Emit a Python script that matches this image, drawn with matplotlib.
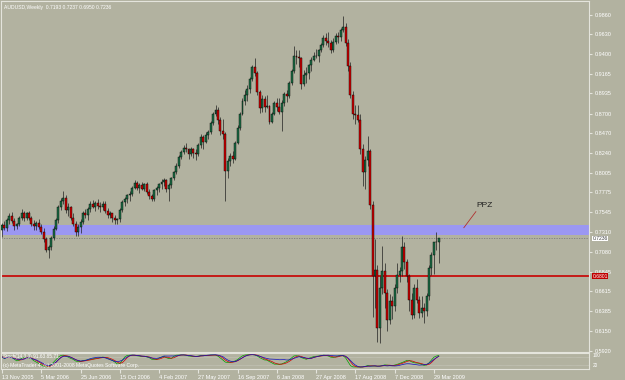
import numpy as np
import pandas as pd
import matplotlib
matplotlib.use('Agg')
import matplotlib.pyplot as plt

# AUDUSD weekly bars, first bar = week of 13 Nov 2005
opens = [
    0.7330, 0.7390, 0.7360, 0.7450, 0.7500, 0.7440, 0.7380, 0.7400, 0.7480, 0.7530,
    0.7470, 0.7530, 0.7480, 0.7410, 0.7380, 0.7420, 0.7370, 0.7310, 0.7230, 0.7100,
    0.7130, 0.7240, 0.7350, 0.7450, 0.7610, 0.7680, 0.7710, 0.7570, 0.7600, 0.7480,
    0.7410, 0.7310, 0.7370, 0.7430, 0.7530, 0.7510, 0.7580, 0.7640, 0.7610, 0.7650,
    0.7620, 0.7600, 0.7640, 0.7560, 0.7510, 0.7530, 0.7470, 0.7450, 0.7460, 0.7570,
    0.7660, 0.7700, 0.7740, 0.7760, 0.7830, 0.7880, 0.7830, 0.7860, 0.7820, 0.7870,
    0.7780, 0.7730, 0.7700, 0.7800, 0.7830, 0.7870, 0.7900, 0.7920, 0.7810, 0.7860,
    0.7940, 0.8010, 0.8090, 0.8190, 0.8250, 0.8300, 0.8280, 0.8220, 0.8290, 0.8240,
    0.8230, 0.8330, 0.8420, 0.8370, 0.8450, 0.8480, 0.8590, 0.8700, 0.8740, 0.8620,
    0.8500, 0.8460, 0.8030, 0.8140, 0.8200, 0.8170, 0.8360, 0.8530, 0.8700, 0.8850,
    0.8920, 0.8990, 0.9110, 0.9250, 0.9180, 0.8950, 0.8760, 0.8870, 0.8780, 0.8790,
    0.8600, 0.8700, 0.8820, 0.8780, 0.8720, 0.8820, 0.8930, 0.8900, 0.9060, 0.9200,
    0.9370, 0.9360, 0.9350, 0.9050, 0.9150, 0.9180, 0.9270, 0.9330, 0.9380, 0.9370,
    0.9440, 0.9500, 0.9590, 0.9550, 0.9530, 0.9450, 0.9540, 0.9610, 0.9600, 0.9680,
    0.9720, 0.9530, 0.9260, 0.8920, 0.8700, 0.8680, 0.8620, 0.8290, 0.8020, 0.8150,
    0.8260, 0.7630, 0.6790, 0.6870, 0.6190, 0.6650, 0.6860, 0.6600, 0.6280, 0.6500,
    0.6440, 0.6650, 0.6810, 0.6850, 0.7140, 0.6960, 0.6790, 0.6510, 0.6340, 0.6650,
    0.6520, 0.6360, 0.6420, 0.6380, 0.6560, 0.6890, 0.7040, 0.7200, 0.7193,
]
highs = [
    0.7420, 0.7440, 0.7470, 0.7540, 0.7550, 0.7470, 0.7420, 0.7500, 0.7580, 0.7560,
    0.7550, 0.7560, 0.7500, 0.7450, 0.7440, 0.7460, 0.7400, 0.7360, 0.7250, 0.7160,
    0.7260, 0.7380, 0.7480, 0.7630, 0.7710, 0.7790, 0.7740, 0.7650, 0.7620, 0.7530,
    0.7440, 0.7400, 0.7460, 0.7560, 0.7580, 0.7600, 0.7670, 0.7690, 0.7680, 0.7700,
    0.7660, 0.7680, 0.7680, 0.7590, 0.7560, 0.7540, 0.7510, 0.7480, 0.7590, 0.7690,
    0.7720, 0.7760, 0.7790, 0.7850, 0.7926, 0.7910, 0.7880, 0.7900, 0.7890, 0.7900,
    0.7820, 0.7760, 0.7820, 0.7850, 0.7890, 0.7930, 0.7950, 0.7930, 0.7880, 0.7960,
    0.8030, 0.8120, 0.8210, 0.8270, 0.8330, 0.8360, 0.8300, 0.8310, 0.8300, 0.8290,
    0.8350, 0.8460, 0.8450, 0.8480, 0.8510, 0.8610, 0.8720, 0.8795, 0.8780, 0.8660,
    0.8640, 0.8480, 0.8180, 0.8240, 0.8260, 0.8380, 0.8570, 0.8720, 0.8880, 0.8970,
    0.9030, 0.9130, 0.9270, 0.9350, 0.9200, 0.8980, 0.8920, 0.8900, 0.8920, 0.8800,
    0.8720, 0.8850, 0.8880, 0.8880, 0.8860, 0.8950, 0.8980, 0.9080, 0.9220, 0.9496,
    0.9450, 0.9440, 0.9360, 0.9210, 0.9240, 0.9280, 0.9360, 0.9420, 0.9460, 0.9460,
    0.9530, 0.9620, 0.9640, 0.9660, 0.9560, 0.9580, 0.9640, 0.9650, 0.9700, 0.9849,
    0.9760, 0.9570, 0.9300, 0.8960, 0.8800, 0.8800, 0.8700, 0.8340, 0.8200, 0.8440,
    0.8280, 0.7680, 0.7230, 0.6920, 0.6800, 0.7150, 0.6950, 0.6640, 0.6580, 0.6560,
    0.6700, 0.6950, 0.6900, 0.7260, 0.7200, 0.7000, 0.6820, 0.6600, 0.6700, 0.6760,
    0.6560, 0.6560, 0.6480, 0.6600, 0.6920, 0.7080, 0.7200, 0.7316, 0.7237,
]
lows = [
    0.7256, 0.7340, 0.7320, 0.7410, 0.7420, 0.7330, 0.7350, 0.7380, 0.7450, 0.7440,
    0.7450, 0.7450, 0.7380, 0.7340, 0.7330, 0.7350, 0.7290, 0.7200, 0.7080, 0.7010,
    0.7100, 0.7220, 0.7330, 0.7420, 0.7570, 0.7640, 0.7540, 0.7500, 0.7450, 0.7380,
    0.7270, 0.7260, 0.7300, 0.7410, 0.7470, 0.7450, 0.7550, 0.7590, 0.7560, 0.7580,
    0.7550, 0.7570, 0.7540, 0.7480, 0.7470, 0.7430, 0.7410, 0.7400, 0.7430, 0.7550,
    0.7620, 0.7650, 0.7680, 0.7730, 0.7810, 0.7800, 0.7770, 0.7800, 0.7790, 0.7760,
    0.7700, 0.7680, 0.7680, 0.7750, 0.7780, 0.7820, 0.7850, 0.7780, 0.7680, 0.7830,
    0.7920, 0.7990, 0.8060, 0.8170, 0.8230, 0.8250, 0.8170, 0.8200, 0.8180, 0.8160,
    0.8200, 0.8300, 0.8290, 0.8350, 0.8400, 0.8460, 0.8570, 0.8670, 0.8580, 0.8450,
    0.8400, 0.7677, 0.7950, 0.8080, 0.8120, 0.8150, 0.8340, 0.8510, 0.8680, 0.8800,
    0.8850, 0.8940, 0.9080, 0.9140, 0.8920, 0.8710, 0.8720, 0.8720, 0.8760, 0.8580,
    0.8590, 0.8680, 0.8730, 0.8700, 0.8500, 0.8790, 0.8840, 0.8880, 0.9040, 0.9180,
    0.9280, 0.9250, 0.8990, 0.9020, 0.9060, 0.9100, 0.9200, 0.9310, 0.9350, 0.9300,
    0.9420, 0.9480, 0.9500, 0.9480, 0.9410, 0.9420, 0.9510, 0.9530, 0.9550, 0.9660,
    0.9490, 0.9200, 0.8880, 0.8640, 0.8580, 0.8600, 0.8220, 0.7850, 0.7810, 0.8080,
    0.7580, 0.6310, 0.6420, 0.6020, 0.6009, 0.6580, 0.6420, 0.6150, 0.6230, 0.6290,
    0.6380, 0.6600, 0.6720, 0.6800, 0.6880, 0.6720, 0.6380, 0.6290, 0.6300, 0.6480,
    0.6300, 0.6320, 0.6250, 0.6330, 0.6520, 0.6810, 0.6820, 0.7100, 0.6950,
]
closes = [
    0.7390, 0.7360, 0.7450, 0.7500, 0.7440, 0.7380, 0.7400, 0.7480, 0.7530, 0.7470,
    0.7530, 0.7480, 0.7410, 0.7380, 0.7420, 0.7370, 0.7310, 0.7230, 0.7100, 0.7130,
    0.7240, 0.7350, 0.7450, 0.7610, 0.7680, 0.7710, 0.7570, 0.7600, 0.7480, 0.7410,
    0.7310, 0.7370, 0.7430, 0.7530, 0.7510, 0.7580, 0.7640, 0.7610, 0.7650, 0.7620,
    0.7600, 0.7640, 0.7560, 0.7510, 0.7530, 0.7470, 0.7450, 0.7460, 0.7570, 0.7660,
    0.7700, 0.7740, 0.7760, 0.7830, 0.7880, 0.7830, 0.7860, 0.7820, 0.7870, 0.7780,
    0.7730, 0.7700, 0.7800, 0.7830, 0.7870, 0.7900, 0.7920, 0.7810, 0.7860, 0.7940,
    0.8010, 0.8090, 0.8190, 0.8250, 0.8300, 0.8280, 0.8220, 0.8290, 0.8240, 0.8230,
    0.8330, 0.8420, 0.8370, 0.8450, 0.8480, 0.8590, 0.8700, 0.8740, 0.8620, 0.8500,
    0.8460, 0.8030, 0.8140, 0.8200, 0.8170, 0.8360, 0.8530, 0.8700, 0.8850, 0.8920,
    0.8990, 0.9110, 0.9250, 0.9180, 0.8950, 0.8760, 0.8870, 0.8780, 0.8790, 0.8600,
    0.8700, 0.8820, 0.8780, 0.8720, 0.8820, 0.8930, 0.8900, 0.9060, 0.9200, 0.9370,
    0.9360, 0.9350, 0.9050, 0.9150, 0.9180, 0.9270, 0.9330, 0.9380, 0.9370, 0.9440,
    0.9500, 0.9590, 0.9550, 0.9530, 0.9450, 0.9540, 0.9610, 0.9600, 0.9680, 0.9720,
    0.9530, 0.9260, 0.8920, 0.8700, 0.8680, 0.8620, 0.8290, 0.8020, 0.8150, 0.8260,
    0.7630, 0.6790, 0.6870, 0.6190, 0.6650, 0.6860, 0.6600, 0.6280, 0.6500, 0.6440,
    0.6650, 0.6810, 0.6850, 0.7140, 0.6960, 0.6790, 0.6510, 0.6340, 0.6650, 0.6520,
    0.6360, 0.6420, 0.6380, 0.6560, 0.6890, 0.7040, 0.7200, 0.7193, 0.7236,
]

price_ticks = [0.9860, 0.9630, 0.9400, 0.9165, 0.8935, 0.8700, 0.8470, 0.8240, 0.8005,
               0.7775, 0.7545, 0.7310, 0.7080, 0.6845, 0.6615, 0.6385, 0.6150, 0.5920]
date_pos = [0, 16, 32, 48, 64, 80, 96, 112, 128, 144, 160, 176]
date_labels = ['13 Nov 2005', '5 Mar 2006', '25 Jun 2006', '15 Oct 2006', '4 Feb 2007',
               '27 May 2007', '16 Sep 2007', '6 Jan 2008', '27 Apr 2008', '17 Aug 2008',
               '7 Dec 2008', '29 Mar 2009']

ppz_low, ppz_high = 0.7279, 0.7397
support = 0.6801
bid = 0.7236

bg = '#b2b2a0'
frame = '#e4e4dc'
plt.rcParams['font.family'] = ['Liberation Sans', 'DejaVu Sans']

o = np.array(opens)
h = np.array(highs)
l = np.array(lows)
c = np.array(closes)
idx = np.arange(len(c))

fig = plt.figure(figsize=(6.25, 3.8), dpi=100, facecolor=bg)
ax = fig.add_axes([1 / 625, 1 - 352 / 380, 588 / 625, 351 / 380], facecolor=bg)
ax.set_xlim(-0.41, 239.2)
ax.set_ylim(0.5905, 1.0019)

# PPZ zone and lines
ax.axhspan(ppz_low, ppz_high, color='#9b97f2', zorder=0.5, lw=0)
ax.axhline(support, color='#c80000', lw=1.2, zorder=1)
ax.axhline(bid, color='#7c7c80', lw=0.6, ls=(0, (1.5, 1.5)), zorder=1)

# candles
up = c >= o
ax.vlines(idx, l, h, color='#202020', lw=0.5, zorder=2)
ax.bar(idx[up], (c - o)[up], bottom=o[up], width=0.8, color='#1c6e46',
       edgecolor='black', lw=0.3, zorder=3)
ax.bar(idx[~up], (c - o)[~up], bottom=o[~up], width=0.8, color='#d00000',
       edgecolor='black', lw=0.3, zorder=3)

# price scale
ax.yaxis.tick_right()
ax.set_yticks(price_ticks)
ax.set_yticklabels(['%.4f' % t for t in price_ticks])
ax.tick_params(axis='y', labelsize=4, labelcolor='white', color=frame, length=2, pad=2)
ax.set_xticks([])
for s in ax.spines.values():
    s.set_color(frame)
    s.set_linewidth(0.8)

ax.text(1.006, bid, '%.4f' % bid, transform=ax.get_yaxis_transform(), fontsize=3.6,
        color='#404040', va='center', ha='left',
        bbox=dict(boxstyle='square,pad=0.05', fc='white', ec='none'), clip_on=False)
ax.text(1.006, support - 0.0006, '%.4f' % support, transform=ax.get_yaxis_transform(), fontsize=3.6,
        color='white', va='center', ha='left',
        bbox=dict(boxstyle='square,pad=0.05', fc='#c00000', ec='none'), clip_on=False)

ax.text(0.005, 0.99, 'AUDUSD,Weekly  %.4f %.4f %.4f %.4f' % (opens[-1], highs[-1], lows[-1], closes[-1]),
        transform=ax.transAxes, fontsize=3.6, color='white', va='top', ha='left')

# PPZ annotation
ax.text(196.8, 0.7620, 'PPZ', fontsize=6, color='#202020', ha='center', va='center')
ax.plot([193.1, 188.2], [0.7550, 0.7362], color='#b03030', lw=0.6, zorder=4)

# indicator window: stochastic computed from the bars above
cs = pd.Series(c)
hh = pd.Series(h).rolling(14, min_periods=1).max()
ll = pd.Series(l).rolling(14, min_periods=1).min()
k_main = 100 * (cs - ll).rolling(3, min_periods=1).sum() / (hh - ll).rolling(3, min_periods=1).sum()
k_sig = k_main.rolling(3, min_periods=1).mean()
hh21 = pd.Series(h).rolling(21, min_periods=1).max()
ll21 = pd.Series(l).rolling(21, min_periods=1).min()
k_slow = 100 * (cs - ll21).rolling(5, min_periods=1).sum() / (hh21 - ll21).rolling(5, min_periods=1).sum()

ax2 = fig.add_axes([1 / 625, 1 - 369 / 380, 588 / 625, 16 / 380], facecolor=bg)
ax2.set_xlim(-0.41, 239.2)
ax2.set_ylim(-10, 110)
ax2.axhline(80, color='#d8d8d0', lw=0.4, ls=(0, (1, 1)))
ax2.axhline(20, color='#d8d8d0', lw=0.4, ls=(0, (1, 1)))
ax2.plot(idx, k_main, color='#00a000', lw=0.5)
ax2.plot(idx, k_sig, color='#d00000', lw=0.5)
ax2.plot(idx, k_slow, color='#1010c0', lw=0.5)
ax2.set_yticks([])
ax2.set_xticks(date_pos)
ax2.set_xticklabels(date_labels)
ax2.tick_params(axis='x', labelsize=4, labelcolor='white', color=frame, length=3, pad=1.5)
for t in ax2.get_xticklabels():
    t.set_horizontalalignment('left')
for s in ax2.spines.values():
    s.set_color(frame)
    s.set_linewidth(0.8)
ax2.text(0.004, 0.95, 'Stoch(14,3,3) %.2f %.2f' % (k_main.iloc[-1], k_sig.iloc[-1]),
         transform=ax2.transAxes, fontsize=3.4, color='white', va='top', ha='left')
ax2.text(0.004, 0.05, '(c) MetaTrader 4, (c) 2001-2008 MetaQuotes Software Corp.',
         transform=ax2.transAxes, fontsize=3.6, color='white', va='bottom', ha='left')
ax2.text(1.006, 0.85, '100', transform=ax2.transAxes, fontsize=3.4, color='white', va='center')
ax2.text(1.006, 0.2, '20', transform=ax2.transAxes, fontsize=3.4, color='white', va='center')

fig.savefig('out.png', dpi=100, facecolor=bg)
